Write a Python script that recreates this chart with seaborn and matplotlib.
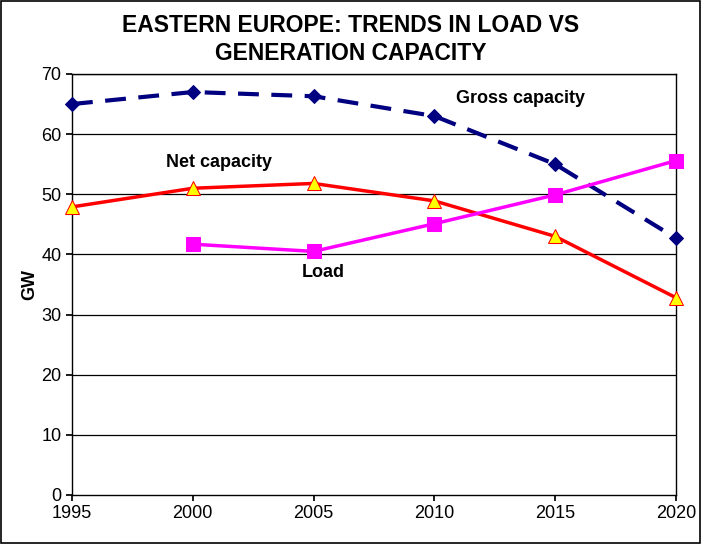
import pandas as pd
import matplotlib.pyplot as plt
import seaborn as sns

years = [1995, 2000, 2005, 2010, 2015, 2020]
gross_capacity = [65.0, 67.0, 66.3, 63.0, 55.0, 42.7]
net_capacity = [47.9, 51.0, 51.8, 48.9, 43.0, 32.8]
load_years = [2000, 2005, 2010, 2015, 2020]
load = [41.7, 40.5, 45.1, 49.9, 55.6]

sns.set_theme(style="white")
plt.rcParams["font.family"] = ["Liberation Sans", "DejaVu Sans"]
plt.rcParams["text.color"] = "black"
plt.rcParams["axes.labelcolor"] = "black"
plt.rcParams["xtick.color"] = "black"
plt.rcParams["ytick.color"] = "black"

gross_df = pd.DataFrame({"year": years, "gw": gross_capacity})
net_df = pd.DataFrame({"year": years, "gw": net_capacity})
load_df = pd.DataFrame({"year": load_years, "gw": load})

fig = plt.figure(figsize=(7.01, 5.44), dpi=100)
fig.patches.append(plt.Rectangle((0.001, 0.001), 0.997, 0.997, transform=fig.transFigure,
                                 fill=False, edgecolor="black", linewidth=1.2))
ax = fig.add_axes([0.1027, 0.0901, 0.8616, 0.7739])

for y in range(10, 80, 10):
    ax.axhline(y, color="black", linewidth=0.9, zorder=0)

sns.lineplot(data=gross_df, x="year", y="gw", ax=ax, color="#000080", linewidth=3,
             linestyle=(0, (5, 3)), marker="D", markersize=7, markeredgecolor="#000080",
             clip_on=False, zorder=3)
sns.lineplot(data=net_df, x="year", y="gw", ax=ax, color="#ff0000", linewidth=2.5,
             marker="^", markersize=10, markerfacecolor="#ffff00", markeredgecolor="#ff0000",
             clip_on=False, zorder=3)
sns.lineplot(data=load_df, x="year", y="gw", ax=ax, color="#ff00ff", linewidth=2.5,
             marker="s", markersize=10, markeredgecolor="#ff00ff",
             clip_on=False, zorder=3)

ax.set_xlim(1995, 2020)
ax.set_ylim(0, 70)
ax.set_xticks(years)
ax.set_yticks(range(0, 80, 10))
ax.tick_params(axis="both", labelsize=13, length=4, direction="out", color="black",
               left=True, bottom=True)
ax.set_xlabel("")
ax.set_ylabel("GW", fontsize=13, fontweight="bold", labelpad=2)
for s in ax.spines.values():
    s.set_color("black")
    s.set_linewidth(1)

ax.text(2010.9, 65.2, "Gross capacity", fontsize=13, fontweight="bold")
ax.text(1998.9, 54.6, "Net capacity", fontsize=13, fontweight="bold")
ax.text(2004.5, 36.2, "Load", fontsize=13, fontweight="bold")

fig.text(0.5, 0.953, "EASTERN EUROPE: TRENDS IN LOAD VS", ha="center", va="center",
         fontsize=16.5, fontweight="bold")
fig.text(0.5, 0.902, "GENERATION CAPACITY", ha="center", va="center",
         fontsize=16.5, fontweight="bold")

fig.savefig("out.png", dpi=100)
